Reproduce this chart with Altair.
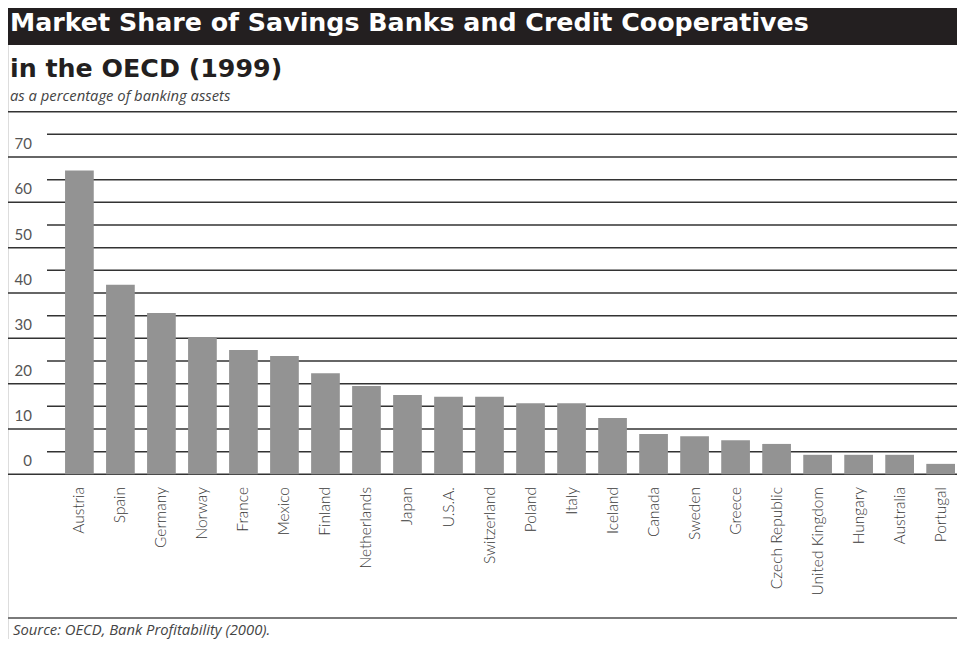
import altair as alt
import pandas as pd

countries = ["Austria", "Spain", "Germany", "Norway", "France", "Mexico", "Finland",
             "Netherlands", "Japan", "U.S.A.", "Switzerland", "Poland", "Italy", "Iceland",
             "Canada", "Sweden", "Greece", "Czech Republic", "United Kingdom", "Hungary",
             "Australia", "Portugal"]
shares = [67.0, 41.8, 35.6, 30.3, 27.4, 26.1, 22.3, 19.5, 17.5, 17.1, 17.1, 15.7, 15.7,
          12.4, 8.9, 8.4, 7.5, 6.7, 4.3, 4.3, 4.3, 2.3]
major_lines = [0, 10, 20, 30, 40, 50, 60, 70, 80]
minor_lines = [5, 15, 25, 35, 45, 55, 65, 75]
tick_labels = [0, 10, 20, 30, 40, 50, 60, 70]

title1 = "Market Share of Savings Banks and Credit Cooperatives"
title2 = "in the OECD (1999)"
subtitle = "as a percentage of banking assets"
source = "Source: OECD, Bank Profitability (2000)."

W, H = 949, 631
PX_PER_UNIT = 4.533
ZERO_Y = 466.3
hi = ZERO_Y / PX_PER_UNIT
lo = hi - H / PX_PER_UNIT

yscale = alt.Scale(domain=[lo, hi], nice=False, zero=False)
xscale = alt.Scale(paddingInner=0.3, paddingOuter=0.72, align=0.966)

bars_df = pd.DataFrame({"country": countries, "share": shares})
major_df = pd.DataFrame({"v": major_lines})
minor_df = pd.DataFrame({"v": minor_lines})
labels_df = pd.DataFrame({"v": tick_labels, "t": [str(t) for t in tick_labels]})

X = alt.X("country:N", sort=countries, scale=xscale, axis=None)

title_bar = alt.Chart(pd.DataFrame({"a": [0]})).mark_rect(color="#231f20").encode(
    x=alt.value(0), x2=alt.value(W), y=alt.value(0), y2=alt.value(37))

def text_layer(txt, x, y, baseline="alphabetic", **kw):
    return alt.Chart(pd.DataFrame({"t": [txt]})).mark_text(align="left", baseline=baseline, **kw).encode(
        text="t:N", x=alt.value(x), y=alt.value(y))

t1 = text_layer(title1, 2, 23, font="DejaVu Sans", fontWeight="bold", fontSize=25.3, color="white")
t2 = text_layer(title2, 2, 69, font="DejaVu Sans", fontWeight="bold", fontSize=25.3, color="#231f20")
t3 = text_layer(subtitle, 2, 93, font="Open Sans", fontStyle="italic", fontSize=14.8, color="#444444")
t4 = text_layer(source, 5, 623, baseline="middle", font="Open Sans", fontStyle="italic",
                fontSize=14.8, color="#444444")

bottom_line = alt.Chart(pd.DataFrame({"a": [0]})).mark_rule(color="#7a7a7a", strokeWidth=2).encode(
    x=alt.value(0), x2=alt.value(W), y=alt.value(610))

major = alt.Chart(major_df).mark_rule(color="#333333", strokeWidth=1.5).encode(
    y=alt.Y("v:Q", scale=yscale, axis=None), x=alt.value(0), x2=alt.value(W))
minor = alt.Chart(minor_df).mark_rule(color="#333333", strokeWidth=1.5).encode(
    y=alt.Y("v:Q", scale=yscale, axis=None), x=alt.value(39), x2=alt.value(W))

ylabels = alt.Chart(labels_df).mark_text(align="right", baseline="middle", dy=-13, font="Lato",
                                         fontSize=15, color="#555555").encode(
    y=alt.Y("v:Q", scale=yscale, axis=None), x=alt.value(24), text="t:N")

bars = alt.Chart(bars_df).mark_bar(color="#939393").encode(
    x=X, y=alt.Y("share:Q", scale=yscale, axis=None), y2=alt.datum(0))

xlabels = alt.Chart(bars_df).mark_text(align="right", baseline="middle", angle=270, font="Lato",
                                       fontSize=15.5, fontWeight=300, color="#3a3a3a").encode(
    x=X, y=alt.value(479), text="country:N")

chart = alt.layer(title_bar, t1, t2, t3, major, minor, ylabels, bars, xlabels, bottom_line, t4).properties(
    width=W, height=H, autosize=alt.AutoSizeParams(type="none"), padding=0
).configure_view(stroke=None).configure(background="white")

chart.save("out.html", embed_options={"renderer": "svg", "actions": False})
